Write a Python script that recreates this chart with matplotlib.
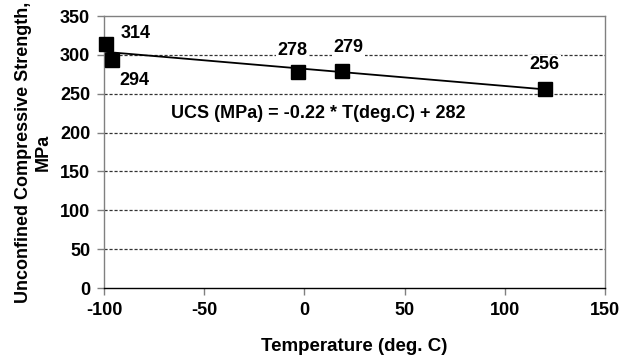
import matplotlib
matplotlib.use("Agg")
import matplotlib.pyplot as plt
import numpy as np

plt.rcParams['font.family'] = ['Liberation Sans', 'DejaVu Sans']
plt.rcParams['font.weight'] = 'bold'
plt.rcParams['axes.unicode_minus'] = False

# data
temp = [-99, -96, -3, 19, 120]
ucs = [314, 294, 278, 279, 256]
point_labels = ['314', '294', '278', '279', '256']
label_pos = [(-84, 328), (-85, 267), (-6, 305), (22, 309), (120, 287)]

# trend line from the equation on the chart
slope = -0.22
intercept = 282
fit_x = np.array([-100, 120])
fit_y = slope * fit_x + intercept

fig = plt.figure(figsize=(6.21, 3.56), dpi=100)
ax = fig.add_axes([0.1675, 0.191, 0.8065, 0.764])

ax.set_xlim(-100, 150)
ax.set_ylim(0, 350)
ax.set_xticks(np.arange(-100, 151, 50))
ax.set_yticks(np.arange(0, 351, 50))

for y in range(50, 301, 50):
    ax.axhline(y, color='#333333', linestyle=(0, (2.5, 1.5)), linewidth=0.9, zorder=0)

ax.plot(fit_x, fit_y, color='black', linewidth=1.3, zorder=2)
ax.plot(temp, ucs, linestyle='none', marker='s', markersize=9.5, color='black',
        zorder=3, clip_on=False)

for txt, (x, y) in zip(point_labels, label_pos):
    ax.text(x, y, txt, ha='center', va='center', fontsize=13, fontweight='bold',
            bbox=dict(facecolor='white', edgecolor='none', pad=1), zorder=1)

ax.text(7, 225, 'UCS (MPa) = -0.22 * T(deg.C) + 282', ha='center', va='center',
        fontsize=13, fontweight='bold')

for side in ['left', 'bottom', 'top', 'right']:
    ax.spines[side].set_color('#808080')
    ax.spines[side].set_linewidth(1.0)
ax.spines['bottom'].set_color('black')

ax.tick_params(axis='both', direction='out', length=5, width=1, color='#808080',
               labelsize=13, pad=5)
for lbl in ax.get_xticklabels() + ax.get_yticklabels():
    lbl.set_fontweight('bold')

ax.set_xlabel('Temperature (deg. C)', fontsize=13.5, fontweight='bold', labelpad=14)
ax.set_ylabel('Unconfined Compressive Strength,\nMPa', fontsize=13, fontweight='bold',
              labelpad=6)

fig.savefig('out.png', dpi=100)
